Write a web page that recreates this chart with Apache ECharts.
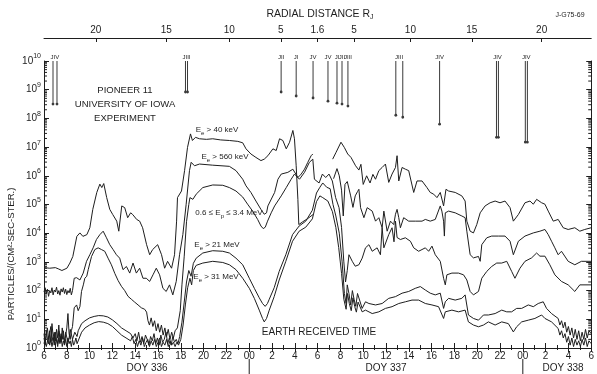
<!DOCTYPE html>
<html><head><meta charset="utf-8">
<script src="https://cdn.jsdelivr.net/npm/echarts@6/dist/echarts.min.js"></script>
<style>html,body{margin:0;padding:0;background:#fff}#c{width:597px;height:374px}</style>
</head><body><div id="c"></div>
<script>
// ---------- DATA (hours since DOY 336 00:00 , log10 of flux in particles/(cm2-sec-ster)) ----------
const electrons40keV = [[6.0,2.8],[6.5,2.78],[7.0,2.8],[7.3,2.75],[7.57,2.7],[8.01,2.78],[8.27,2.96],[8.53,3.19],[8.88,3.89],[9.15,4.01],[9.41,3.89],[9.76,3.95],[10.02,4.19],[10.28,4.83],[10.63,5.42],[10.9,5.71],[11.07,5.59],[11.24,5.73],[11.5,5.24],[11.77,4.83],[12.03,4.65],[12.38,4.42],[12.56,4.07],[12.64,4.01],[12.82,4.95],[13.08,4.89],[13.34,4.54],[13.6,4.71],[13.78,4.65],[14.13,4.48],[14.39,4.42],[14.65,4.19],[15.0,3.6],[15.27,3.25],[15.53,3.43],[15.7,3.37],[15.97,3.6],[16.31,3.25],[16.58,2.78],[16.84,3.02],[17.19,2.78],[17.45,3.25],[17.63,4.42],[17.71,5.24],[18.06,5.47],[18.33,6.18],[18.59,6.99],[18.85,7.46],[19.02,7.23],[19.29,7.34],[19.64,7.29],[20.25,7.27],[20.8,7.29],[21.5,7.25],[22.26,7.23],[23.0,7.2],[23.43,7.15],[23.72,6.94],[24.15,6.76],[24.59,6.64],[25.03,6.53],[25.32,6.58],[25.64,6.7],[26.08,6.94],[26.37,6.88],[26.66,7.29],[26.95,7.23],[27.25,6.94],[27.54,7.17],[27.83,7.58],[27.97,7.29],[28.12,6.35],[28.27,5.18],[28.35,4.3],[28.7,4.4],[29.1,4.5],[29.6,4.65],[30.5,null],[31.32,6.58],[31.62,6.82],[32.05,7.17],[32.34,6.99],[32.64,6.76],[32.93,6.64],[33.33,6.35],[33.62,6.2],[33.8,6.4],[34.0,5.7],[34.3,6.0],[34.6,5.75],[34.85,6.05],[35.08,5.88],[35.37,6.18],[35.66,6.29],[35.95,6.41],[36.24,5.77],[36.53,6.06],[36.83,6.29],[36.97,6.7],[37.12,5.82],[37.41,6.29],[37.7,6.23],[37.99,6.18],[38.43,5.42],[38.72,5.82],[39.16,5.82],[39.59,5.59],[39.88,5.42],[40.18,5.36],[40.47,5.24],[40.76,5.42],[41.05,4.95],[41.26,5.53],[41.49,5.47],[42.07,5.42],[42.65,5.3],[42.94,5.12],[43.09,4.42],[43.38,4.07],[43.67,4.01],[43.96,4.3],[44.26,4.71],[44.69,4.95],[45.13,5.06],[45.57,5.12],[46.0,5.06],[46.44,5.12],[46.88,4.89],[47.17,4.42],[47.61,4.65],[48.19,5.06],[48.63,5.12],[48.92,5.01],[49.21,5.18],[49.65,5.06],[49.94,5.01],[50.23,4.77],[50.67,4.42],[51.1,4.48],[51.54,4.19],[51.98,4.13],[52.56,4.19],[53.0,4.07],[53.43,4.13],[54.0,4.19]];

const electrons560keV = [[6.0,1.95],[6.1,2.1],[6.2,1.9],[6.3,2.05],[6.4,1.8],[6.5,2.0],[6.6,1.92],[6.7,2.1],[6.8,1.85],[6.9,2.02],[7.0,1.95],[7.1,2.12],[7.2,1.88],[7.3,2.0],[7.4,1.84],[7.5,2.06],[7.6,1.95],[7.7,2.1],[7.8,1.9],[7.9,2.05],[8.0,1.86],[8.1,2.0],[8.2,1.92],[8.3,2.08],[8.4,1.85],[8.5,2.0],[8.65,2.43],[8.86,2.45],[9.15,2.37],[9.44,2.61],[9.73,3.02],[10.02,3.25],[10.31,3.49],[10.6,3.78],[10.9,3.95],[11.19,4.07],[11.48,3.84],[11.77,3.6],[12.06,3.43],[12.35,3.25],[12.64,3.13],[12.93,2.73],[13.23,2.84],[13.52,2.61],[13.81,2.96],[14.1,2.61],[14.39,2.78],[14.68,2.43],[14.97,2.43],[15.27,2.32],[15.56,2.55],[15.85,2.78],[16.14,2.55],[16.43,2.08],[16.72,1.97],[17.01,2.2],[17.3,1.85],[17.6,2.32],[17.89,3.25],[18.18,3.95],[18.47,5.01],[18.76,6.18],[18.91,6.47],[19.2,6.35],[19.64,6.41],[20.8,6.37],[22.26,6.33],[22.84,6.18],[23.43,5.88],[23.72,5.65],[24.15,5.42],[24.59,5.12],[25.03,4.83],[25.32,4.66],[25.52,4.71],[25.64,4.95],[26.23,5.42],[26.52,5.88],[26.81,6.06],[27.39,6.12],[27.83,6.23],[28.27,5.94],[28.56,6.06],[28.85,6.23],[29.14,6.47],[29.43,6.7],[29.58,6.76],[30.5,null],[31.4,5.9],[31.7,6.25],[31.9,6.0],[32.1,5.5],[32.25,4.6],[32.4,5.7],[32.6,5.8],[32.9,5.3],[33.1,4.9],[33.3,5.3],[33.5,5.45],[33.62,5.53],[33.77,4.89],[34.06,4.54],[34.35,4.89],[34.79,4.77],[35.08,4.42],[35.37,4.54],[35.66,4.19],[35.81,4.77],[36.1,4.07],[36.39,4.42],[36.68,4.3],[36.83,4.66],[36.97,4.83],[37.12,4.54],[37.26,4.19],[37.55,4.54],[37.99,4.42],[38.57,4.42],[39.16,4.42],[39.45,4.48],[39.88,4.42],[40.32,4.48],[40.76,4.95],[40.9,4.77],[41.05,4.42],[41.12,3.9],[41.2,4.71],[41.49,4.77],[42.07,4.71],[42.65,4.6],[42.94,4.54],[43.09,4.07],[43.38,3.25],[43.67,3.14],[44.11,3.19],[44.26,3.02],[44.4,3.6],[44.84,3.84],[45.27,3.9],[45.86,3.9],[46.44,3.9],[46.88,3.72],[47.17,3.25],[47.61,3.72],[48.19,3.9],[48.92,4.01],[49.5,4.07],[49.94,4.13],[50.23,3.95],[50.52,3.72],[50.81,3.49],[51.1,3.25],[51.39,3.37],[51.98,3.02],[52.56,2.9],[53.14,3.02],[53.72,3.02],[54.0,3.02]];

const protons06to34MeV = [[6.0,0.5],[6.1,0.15],[6.2,0.45],[6.3,0.7],[6.4,0.3],[6.5,0.6],[6.6,0.2],[6.7,0.85],[6.8,0.4],[6.9,0.55],[7.0,0.25],[7.1,0.65],[7.2,0.35],[7.3,0.8],[7.4,0.2],[7.5,0.5],[7.6,0.3],[7.7,0.6],[7.8,0.15],[7.9,0.45],[8.0,0.7],[8.1,1.2],[8.2,0.5],[8.3,0.3],[8.4,0.6],[8.5,0.75],[8.65,1.4],[8.86,1.5],[9.0,1.3],[9.15,1.44],[9.29,1.97],[9.45,2.2],[9.58,2.43],[9.75,2.5],[9.88,2.73],[10.17,3.19],[10.46,3.43],[10.75,3.49],[11.04,3.43],[11.33,3.37],[11.62,3.13],[11.91,2.9],[12.21,2.6],[12.5,2.35],[12.79,2.15],[13.08,2.0],[13.37,1.8],[13.66,1.7],[13.95,1.6],[14.25,1.5],[14.54,1.4],[14.83,1.35],[15.0,1.25],[15.12,0.95],[15.25,0.8],[15.4,1.05],[15.55,0.75],[15.7,0.95],[15.85,0.6],[16.0,0.85],[16.15,0.55],[16.3,0.8],[16.45,0.45],[16.6,0.7],[16.75,0.4],[16.9,0.65],[17.05,0.3],[17.2,0.55],[17.35,0.35],[17.5,0.6],[17.7,0.7],[17.95,1.3],[18.1,2.2],[18.3,3.2],[18.5,4.4],[18.7,5.0],[18.8,5.24],[19.06,5.18],[19.35,5.36],[19.93,5.59],[20.8,5.68],[21.68,5.67],[22.26,5.59],[22.84,5.47],[23.43,5.26],[23.86,5.01],[24.3,4.77],[24.74,4.48],[25.03,4.25],[25.23,4.16],[25.41,4.21],[25.61,4.42],[25.93,4.71],[26.23,4.95],[26.81,5.3],[27.25,5.59],[27.68,5.88],[27.97,6.06],[28.12,6.0],[28.41,5.88],[28.85,6.12],[29.28,6.47],[29.58,6.58],[29.72,5.88],[30.13,5.75],[30.42,6.06],[30.71,5.94],[31.0,6.06],[31.29,5.82],[31.58,5.24],[31.88,4.89],[32.1,4.2],[32.3,3.0],[32.45,2.3],[32.6,2.7],[32.75,3.25],[33.04,3.02],[33.3,2.85],[33.62,2.9],[33.91,3.13],[34.2,3.49],[34.5,3.6],[34.79,3.37],[35.22,3.49],[35.51,3.25],[35.66,4.19],[35.81,3.49],[36.24,3.95],[36.53,4.19],[36.7,3.7],[36.83,4.42],[36.97,3.85],[37.26,3.78],[37.7,3.84],[38.14,3.72],[38.43,3.49],[38.86,3.37],[39.45,3.49],[39.74,3.37],[40.03,3.55],[40.32,3.25],[40.76,3.02],[41.05,2.43],[41.2,2.2],[41.34,2.55],[41.78,2.61],[42.36,2.61],[42.8,2.55],[43.09,2.37],[43.38,1.97],[43.67,1.85],[44.11,1.97],[44.4,2.43],[44.84,2.67],[45.27,2.84],[45.71,2.96],[46.15,2.96],[46.59,3.02],[47.02,2.67],[47.31,2.43],[47.75,2.78],[48.19,3.02],[48.77,3.14],[49.21,3.31],[49.5,3.2],[49.94,3.2],[50.37,2.9],[50.81,2.55],[51.39,2.32],[51.98,2.2],[52.56,1.97],[53.0,2.2],[53.72,2.2],[54.0,2.2]];

const electrons21MeV = [[6.0,0.35],[6.1,0.1],[6.2,0.6],[6.3,0.3],[6.4,0.15],[6.5,0.5],[6.6,0.75],[6.7,0.25],[6.8,0.4],[6.9,0.1],[7.0,0.55],[7.1,0.3],[7.2,0.15],[7.3,0.6],[7.4,0.45],[7.5,0.2],[7.6,0.7],[7.7,0.35],[7.8,0.25],[7.9,0.55],[8.0,0.5],[8.1,0.2],[8.2,0.35],[8.3,0.65],[8.4,0.6],[8.5,0.3],[8.6,0.35],[8.7,0.55],[8.8,0.5],[8.9,0.4],[9.0,0.6],[9.3,0.85],[9.6,0.95],[10.0,1.05],[10.4,1.1],[10.8,1.13],[11.2,1.12],[11.6,1.08],[12.0,0.98],[12.4,0.85],[12.8,0.7],[13.2,0.6],[13.6,0.5],[13.8,0.35],[14.0,0.5],[14.15,0.25],[14.3,0.55],[14.45,0.2],[14.6,0.4],[14.75,0.15],[14.9,0.45],[15.05,0.3],[15.2,0.1],[15.35,0.4],[15.5,0.25],[15.65,0.5],[15.8,0.15],[15.95,0.35],[16.1,0.1],[16.25,0.45],[16.4,0.2],[16.55,0.3],[16.7,0.55],[16.85,0.15],[17.0,0.35],[17.15,0.1],[17.3,0.4],[17.45,0.2],[17.6,0.3],[17.75,0.15],[17.9,0.4],[18.1,0.9],[18.3,1.6],[18.5,2.3],[18.7,2.7],[18.9,2.5],[19.1,2.95],[19.35,3.13],[19.93,3.31],[20.8,3.39],[21.68,3.37],[22.26,3.31],[22.84,3.13],[23.43,2.9],[24.01,2.43],[24.45,2.08],[24.88,1.75],[25.17,1.55],[25.4,1.45],[25.6,1.55],[25.76,1.7],[26.19,2.1],[26.63,2.67],[27.21,3.25],[27.8,3.95],[28.38,4.25],[28.96,4.42],[29.54,4.8],[29.9,5.4],[30.2,5.6],[30.45,5.75],[30.8,5.6],[31.1,5.55],[31.35,5.0],[31.6,4.6],[31.9,4.0],[32.15,3.0],[32.35,1.9],[32.5,1.55],[32.6,2.2],[32.75,1.9],[32.9,1.5],[33.05,2.0],[33.2,1.7],[33.35,1.45],[33.5,1.9],[33.62,1.85],[33.91,1.38],[34.2,1.61],[34.5,1.55],[35.08,1.5],[35.66,1.55],[36.24,1.73],[36.83,1.79],[37.41,1.91],[37.99,1.97],[38.57,2.08],[39.01,2.14],[39.45,2.02],[39.88,1.91],[40.32,1.85],[40.76,1.91],[41.05,1.38],[41.2,1.61],[41.49,1.73],[42.07,1.67],[42.65,1.73],[42.94,1.85],[43.23,1.15],[43.67,1.03],[44.11,0.97],[44.55,1.15],[44.98,1.15],[45.57,1.2],[46.15,1.32],[46.59,1.26],[47.02,1.26],[47.46,1.38],[47.9,1.38],[48.48,1.5],[48.92,1.44],[49.35,1.55],[49.79,1.61],[50.08,1.38],[50.52,1.2],[51.1,1.03],[51.25,0.8],[51.4,0.95],[51.55,0.7],[51.7,0.9],[51.85,0.55],[52.0,0.75],[52.15,0.45],[52.3,0.7],[52.45,0.35],[52.6,0.65],[52.75,0.3],[52.9,0.6],[53.05,0.25],[53.2,0.55],[53.35,0.3],[53.5,0.65],[53.65,0.35],[53.8,0.6],[54.0,0.5]];

const electrons31MeV = [[6.0,0.15],[6.1,0.35],[6.2,0.05],[6.3,0.2],[6.4,0.4],[6.5,0.1],[6.6,0.3],[6.7,0.05],[6.8,0.25],[6.9,0.45],[7.0,0.1],[7.1,0.3],[7.2,0.05],[7.3,0.35],[7.4,0.15],[7.5,0.4],[7.6,0.05],[7.7,0.25],[7.8,0.1],[7.9,0.3],[8.0,0.05],[8.1,0.35],[8.2,0.15],[8.3,0.25],[8.4,0.05],[8.5,0.3],[8.6,0.1],[8.7,0.2],[8.8,0.35],[8.9,0.15],[9.0,0.2],[9.3,0.55],[9.6,0.7],[10.0,0.8],[10.4,0.88],[10.8,0.92],[11.2,0.9],[11.6,0.85],[12.0,0.75],[12.4,0.6],[12.8,0.45],[13.2,0.35],[13.6,0.25],[13.75,0.4],[13.9,0.15],[14.05,0.3],[14.2,0.05],[14.35,0.25],[14.5,0.1],[14.65,0.35],[14.8,0.05],[14.95,0.2],[15.1,0.3],[15.25,0.05],[15.4,0.25],[15.55,0.1],[15.7,0.3],[15.85,0.05],[16.0,0.2],[16.15,0.35],[16.3,0.05],[16.45,0.2],[16.6,0.1],[16.75,0.3],[16.9,0.05],[17.05,0.25],[17.2,0.1],[17.35,0.2],[17.5,0.05],[17.65,0.2],[17.8,0.1],[18.0,0.3],[18.2,0.8],[18.4,1.5],[18.6,2.1],[18.8,2.43],[18.95,2.2],[19.1,2.7],[19.35,2.88],[19.93,2.96],[20.8,3.02],[21.68,2.98],[22.26,2.9],[22.84,2.73],[23.43,2.43],[24.01,2.08],[24.45,1.73],[24.88,1.32],[25.17,1.03],[25.32,0.91],[25.52,1.03],[25.76,1.32],[26.19,1.79],[26.63,2.37],[27.21,3.02],[27.8,3.72],[28.38,4.07],[28.96,4.21],[29.54,4.5],[29.9,5.1],[30.2,5.3],[30.45,5.24],[30.9,5.12],[31.3,4.75],[31.6,4.2],[31.85,3.5],[32.1,2.6],[32.3,1.7],[32.5,1.35],[32.62,1.9],[32.78,1.55],[32.95,1.3],[33.1,1.75],[33.25,1.45],[33.4,1.25],[33.55,1.6],[33.62,1.61],[33.91,1.26],[34.2,1.32],[34.79,1.2],[35.37,1.26],[35.95,1.38],[36.53,1.44],[37.12,1.55],[37.7,1.61],[38.28,1.67],[38.86,1.67],[39.45,1.55],[40.03,1.5],[40.61,1.44],[41.05,1.03],[41.2,1.26],[41.78,1.32],[42.36,1.26],[42.94,1.32],[43.23,0.91],[43.67,0.8],[44.11,0.74],[44.55,0.8],[44.98,0.91],[45.57,0.8],[46.15,0.91],[46.73,0.85],[47.17,0.56],[47.46,0.74],[47.9,0.91],[48.48,0.97],[49.06,1.03],[49.65,1.15],[49.94,1.03],[50.52,0.91],[51.1,0.68],[51.25,0.45],[51.4,0.6],[51.55,0.35],[51.7,0.5],[51.85,0.2],[52.0,0.4],[52.15,0.1],[52.3,0.35],[52.45,0.05],[52.6,0.3],[52.75,0.1],[52.9,0.25],[53.05,0.05],[53.2,0.3],[53.35,0.1],[53.5,0.35],[53.65,0.05],[53.8,0.25],[54.0,0.15]];

// satellite orbit markers: hour, log10 of the lower end of the marker line
const markerHours = [6.79,7.14,18.41,18.59,26.8,28.12,29.6,30.91,31.7,32.14,32.66,36.86,37.47,40.7,45.69,45.86,48.22,48.4];
const markerEnds  = [8.5,8.5,8.92,8.92,8.92,8.78,8.71,8.6,8.53,8.5,8.43,8.11,8.04,7.8,7.34,7.34,7.17,7.17];
const markerLabelHours = [6.95,18.5,26.8,28.12,29.6,30.91,31.7,32.14,32.66,37.15,40.7,45.78,48.3];
const markerLabelTexts = ['JIV','JIII','JII','JI','JV','JV','JI','JII','JIII','JIII','JIV','JIV','JIV'];

// radial distance (top axis)
const radialTickHours = [10.55,16.73,22.26,26.78,29.98,33.19,38.14,43.53,49.65];
const radialTickLabels = ['20','15','10','5','1.6','5','10','15','20'];

// y axis: decades 10^0 .. 10^10 (values are log10)
const decadeExponents = [0,1,2,3,4,5,6,7,8,9,10];

// ---------- CHART ----------
const FONT = '"Liberation Sans", Arial, sans-serif';
const INK = '#1e1e1e';
const chart = echarts.init(document.getElementById('c'), null, {renderer: 'canvas'});

function toData(pairs) {
  return pairs.map(p => p[1] === null ? [p[0], '-'] : [p[0], p[1]]);
}
function lineSeries(name, pairs) {
  return {
    name, type: 'line', data: toData(pairs), showSymbol: false, symbol: 'none',
    connectNulls: false, smooth: false, animation: false,
    lineStyle: {color: INK, width: 1}, z: 3
  };
}
const minorTickData = [];
for (let n = 0; n < 10; n++) {
  for (let k = 2; k <= 9; k++) {
    minorTickData.push([6, n + Math.log10(k)]);
    minorTickData.push([54, n + Math.log10(k)]);
  }
}
const axisLine = {show: true, lineStyle: {color: INK, width: 1}};

chart.setOption({
  backgroundColor: '#ffffff',
  animation: false,
  grid: {left: 44, right: 4, top: 61, bottom: 26, containLabel: false},
  xAxis: [
    {type: 'value', position: 'bottom', min: 6, max: 54, interval: 2,
     axisLine, splitLine: {show: false},
     axisTick: {show: true, inside: true, length: 5, lineStyle: {color: INK}},
     minorTick: {show: true, splitNumber: 2, length: 3, lineStyle: {color: INK}},
     axisLabel: {color: INK, fontFamily: FONT, fontSize: 10, margin: 3,
       formatter: v => { const h = Math.round(v) % 24; return h === 0 ? '00' : String(h); }}},
    {type: 'value', position: 'top', min: 6, max: 54, interval: 2,
     axisLine, splitLine: {show: false},
     axisTick: {show: true, inside: true, length: 4, lineStyle: {color: INK}},
     minorTick: {show: true, splitNumber: 2, length: 2, lineStyle: {color: INK}},
     axisLabel: {show: false}},
    {type: 'value', position: 'top', offset: 23, min: 6, max: 54,
     axisLine, splitLine: {show: false},
     axisTick: {show: true, inside: true, length: 4, customValues: radialTickHours, lineStyle: {color: INK}},
     axisLabel: {show: true, customValues: radialTickHours, color: INK, fontFamily: FONT, fontSize: 10, margin: 3,
       formatter: v => { let best = 0; radialTickHours.forEach((h, i) => { if (Math.abs(h - v) < Math.abs(radialTickHours[best] - v)) best = i; }); return radialTickLabels[best]; }}}
  ],
  yAxis: [
    {type: 'value', min: 0, max: 10, interval: 1, position: 'left',
     axisLine, splitLine: {show: false},
     axisTick: {show: true, inside: true, length: 5, lineStyle: {color: INK}},
     axisLabel: {color: INK, margin: 3,
       formatter: v => '{b|10}{s|' + decadeExponents[Math.round(v)] + '}',
       rich: {b: {fontFamily: FONT, fontSize: 10, lineHeight: 16, color: INK},
              s: {fontFamily: FONT, fontSize: 7, lineHeight: 8, verticalAlign: 'top', color: INK}}}},
    {type: 'value', min: 0, max: 10, interval: 1, position: 'right',
     axisLine, splitLine: {show: false},
     axisTick: {show: true, inside: true, length: 5, lineStyle: {color: INK}},
     axisLabel: {show: false}}
  ],
  series: [
    lineSeries('E>40keV', electrons40keV),
    lineSeries('E>560keV', electrons560keV),
    lineSeries('0.6-3.4MeV p', protons06to34MeV),
    lineSeries('E>21MeV', electrons21MeV),
    lineSeries('E>31MeV', electrons31MeV),
    {type: 'custom', name: 'minorTicks', silent: true, clip: false, z: 2,
     data: minorTickData,
     renderItem: (params, api) => {
       const p = api.coord([api.value(0), api.value(1)]);
       const d = api.value(0) < 30 ? 1 : -1;
       return {type: 'line', shape: {x1: p[0], y1: p[1], x2: p[0] + d * 3, y2: p[1]},
               style: {stroke: INK, lineWidth: 1}};
     }},
    {type: 'custom', name: 'markers', silent: true, clip: false, z: 4,
     data: markerHours.map((h, i) => [h, markerEnds[i]]),
     renderItem: (params, api) => {
       const t = api.value(0);
       const top = api.coord([t, 10]);
       const bot = api.coord([t, api.value(1)]);
       return {type: 'group', children: [
         {type: 'line', shape: {x1: top[0], y1: top[1], x2: bot[0], y2: bot[1]}, style: {stroke: '#3a3a3a', lineWidth: 1}},
         {type: 'circle', shape: {cx: bot[0], cy: bot[1], r: 1.4}, style: {fill: '#3a3a3a'}}
       ]};
     }},
    {type: 'custom', name: 'markerLabels', silent: true, clip: false, z: 4,
     data: markerLabelHours.map((h, i) => [h, 10, i]),
     renderItem: (params, api) => {
       const p = api.coord([api.value(0), api.value(1)]);
       return {type: 'text', x: p[0], y: p[1] - 1,
               style: {text: markerLabelTexts[api.value(2)], fontFamily: FONT, fontSize: 6,
                       fill: INK, align: 'center', verticalAlign: 'bottom'}};
     }}
  ]
});

// ---------- ANNOTATIONS ----------
const d0 = chart.convertToPixel({xAxisIndex: 0}, 24);
const d1 = chart.convertToPixel({xAxisIndex: 0}, 48);
const txt = (x, y, text, size, extra) => Object.assign({type: 'text', x, y, silent: true,
  style: Object.assign({text, fontFamily: FONT, fontSize: size, fill: INK, align: 'center', verticalAlign: 'middle'}, extra || {})});
const subRich = {t: {fontFamily: FONT, fontSize: 8, lineHeight: 12, color: INK},
                 u: {fontFamily: FONT, fontSize: 6, lineHeight: 6, verticalAlign: 'bottom', color: INK}};
chart.setOption({
  graphic: [
    txt(320, 14, '{t|RADIAL DISTANCE R}{u|J}', 11, {rich: {t: {fontFamily: FONT, fontSize: 10.5, lineHeight: 14, color: INK}, u: {fontFamily: FONT, fontSize: 7, lineHeight: 8, verticalAlign: 'bottom', color: INK}}}),
    txt(570, 15, 'J-G75-69', 7),
    txt(125, 90, 'PIONEER 11', 9.5),
    txt(125, 104, 'UNIVERSITY OF IOWA', 9.5),
    txt(125, 118, 'EXPERIMENT', 9.5),
    Object.assign(txt(11, 254, 'PARTICLES/(CM\u00B2-SEC-STER.)', 9.5), {rotation: Math.PI / 2}),
    txt(319, 332, 'EARTH RECEIVED TIME', 10),
    txt(147, 368, 'DOY 336', 10),
    txt(386, 368, 'DOY 337', 10),
    txt(563, 368, 'DOY 338', 10),
    {type: 'line', silent: true, shape: {x1: d0, y1: 359, x2: d0, y2: 374}, style: {stroke: INK, lineWidth: 1}},
    {type: 'line', silent: true, shape: {x1: d1, y1: 359, x2: d1, y2: 374}, style: {stroke: INK, lineWidth: 1}},
    txt(217, 130, '{t|E}{u|e}{t| > 40 keV}', 8, {rich: subRich}),
    txt(225, 157, '{t|E}{u|e}{t| > 560 keV}', 8, {rich: subRich}),
    txt(229, 213, '{t|0.6 \u2264 E}{u|p}{t| \u2264 3.4 MeV}', 8, {rich: subRich}),
    txt(217, 245, '{t|E}{u|e}{t| > 21 MeV}', 8, {rich: subRich}),
    txt(216, 277, '{t|E}{u|e}{t| > 31 MeV}', 8, {rich: subRich})
  ]
});
</script></body></html>
